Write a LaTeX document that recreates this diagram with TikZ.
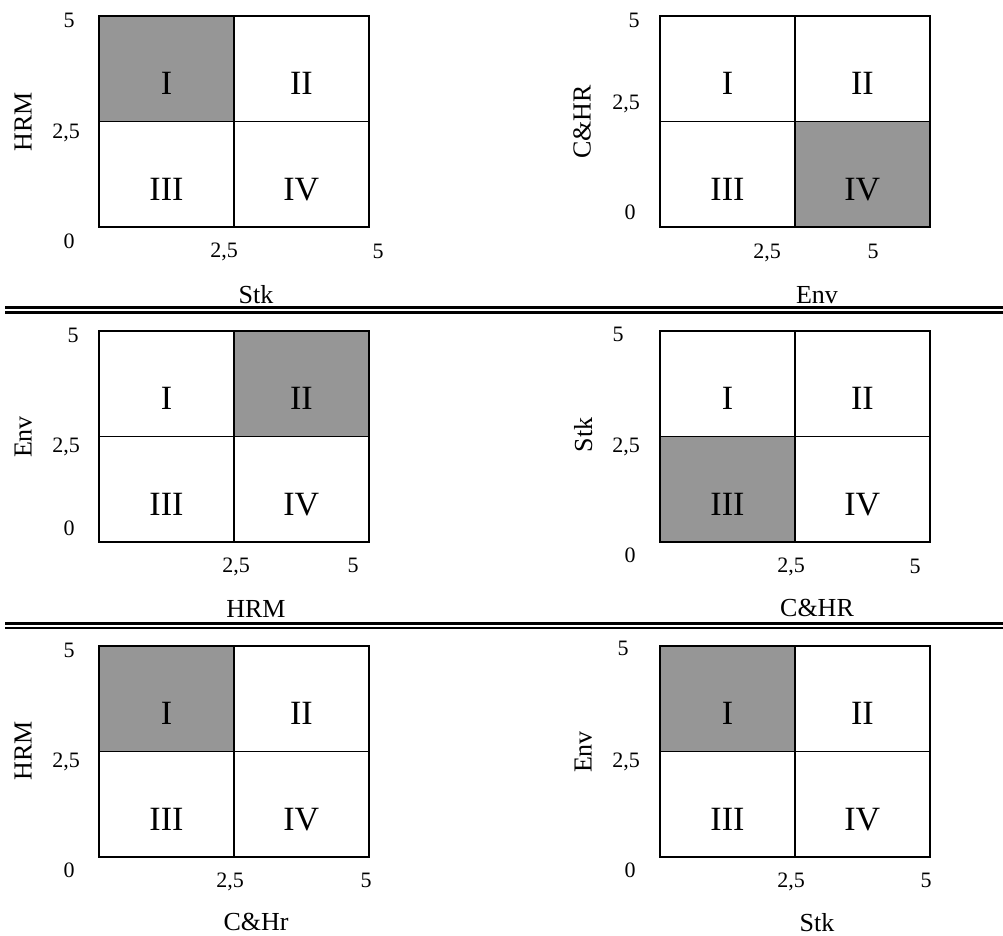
\documentclass[tikz,border=0pt]{standalone}
\usepackage{fontspec}
\setmainfont{Liberation Serif}
\definecolor{shade}{RGB}{150,150,150}
\tikzset{
  cellbox/.style={minimum width=134.5pt, minimum height=105pt, inner sep=0pt, anchor=north west},
  dk/.style={fill=shade},
  lt/.style={fill=white},
  numtext/.style={inner sep=0pt, text depth=0pt, font=\fontsize{34}{40}\selectfont},
  tick/.style={inner sep=0pt, text depth=0pt, font=\fontsize{22}{26}\selectfont},
  axis/.style={inner sep=0pt, text depth=0pt, font=\fontsize{26}{30}\selectfont},
  gridline/.style={line width=1.6pt},
  outerline/.style={line width=2pt},
  sepline/.style={line width=2.5pt}
}
% #1 name, #2 x left, #3 y top, #4..#7 styles of cells I..IV
\newcommand{\qgrid}[7]{%
  \node[cellbox,#4] (#1a) at (#2,#3) {};
  \node[cellbox,#5] (#1b) at (#1a.north east) {};
  \node[cellbox,#6] (#1c) at (#1a.south west) {};
  \node[cellbox,#7] (#1d) at (#1a.south east) {};
  \draw[gridline] (#1a.north east) -- (#1c.south east);
  \draw[gridline] (#1a.south west) -- (#1b.south east);
  \draw[outerline] (#1a.north west) rectangle (#1d.south east);
  \node[numtext] (#1ta) at ([yshift=-15pt]#1a.center) {I};
  \node[numtext] (#1tb) at ([yshift=-15pt]#1b.center) {II};
  \node[numtext] (#1tc) at ([yshift=-15pt]#1c.center) {III};
  \node[numtext] (#1td) at ([yshift=-15pt]#1d.center) {IV};
}
\begin{document}
\begin{tikzpicture}[x=1pt,y=-1pt]
\useasboundingbox (0,0) rectangle (1003,935);

% grid 1
\qgrid{g1}{99}{16}{dk}{lt}{lt}{lt}
\node[tick] (g1y5) at (69,20.5) {5};
\node[tick] (g1y25) at (66,131) {2,5};
\node[tick] (g1y0) at (69,241) {0};
\node[tick] (g1x25) at (224,250) {2,5};
\node[tick] (g1x5) at (378,251) {5};
\node[axis] (g1xl) at (256,294) {Stk};
\node[axis,rotate=90] (g1yl) at (23,122) {HRM};

% grid 2
\qgrid{g2}{660}{16}{lt}{lt}{lt}{dk}
\node[tick] (g2y5) at (634,20.5) {5};
\node[tick] (g2y25) at (626,102) {2,5};
\node[tick] (g2y0) at (630,212) {0};
\node[tick] (g2x25) at (767,251) {2,5};
\node[tick] (g2x5) at (873,251) {5};
\node[axis] (g2xl) at (817,295) {Env};
\node[axis,rotate=90] (g2yl) at (582,122) {C\&HR};

% separator 1
\coordinate (s1a) at (5,307.5);
\coordinate (s1b) at (1003,307.5);
\coordinate (s1c) at (5,312.5);
\coordinate (s1d) at (1003,312.5);
\draw[sepline] (s1a) -- (s1b);
\draw[sepline] (s1c) -- (s1d);

% grid 3
\qgrid{g3}{99}{331}{lt}{dk}{lt}{lt}
\node[tick] (g3y5) at (73,335) {5};
\node[tick] (g3y25) at (66,445) {2,5};
\node[tick] (g3y0) at (69,528) {0};
\node[tick] (g3x25) at (236,565) {2,5};
\node[tick] (g3x5) at (353,565) {5};
\node[axis] (g3xl) at (256,609) {HRM};
\node[axis,rotate=90] (g3yl) at (23,437) {Env};

% grid 4
\qgrid{g4}{660}{331}{lt}{lt}{dk}{lt}
\node[tick] (g4y5) at (618,334) {5};
\node[tick] (g4y25) at (626,445) {2,5};
\node[tick] (g4y0) at (630,555) {0};
\node[tick] (g4x25) at (791,565) {2,5};
\node[tick] (g4x5) at (915,566) {5};
\node[axis] (g4xl) at (817,608) {C\&HR};
\node[axis,rotate=90] (g4yl) at (583,435) {Stk};

% separator 2
\coordinate (s2a) at (5,623.5);
\coordinate (s2b) at (1003,623.5);
\coordinate (s2c) at (5,628);
\coordinate (s2d) at (1003,628);
\draw[sepline] (s2a) -- (s2b);
\draw[sepline] (s2c) -- (s2d);

% grid 5
\qgrid{g5}{99}{646}{dk}{lt}{lt}{lt}
\node[tick] (g5y5) at (69,650) {5};
\node[tick] (g5y25) at (66,760) {2,5};
\node[tick] (g5y0) at (69,870) {0};
\node[tick] (g5x25) at (230,880) {2,5};
\node[tick] (g5x5) at (366,880) {5};
\node[axis] (g5xl) at (256,922) {C\&Hr};
\node[axis,rotate=90] (g5yl) at (23,751) {HRM};

% grid 6
\qgrid{g6}{660}{646}{dk}{lt}{lt}{lt}
\node[tick] (g6y5) at (623,648) {5};
\node[tick] (g6y25) at (626,760) {2,5};
\node[tick] (g6y0) at (630,870) {0};
\node[tick] (g6x25) at (791,880) {2,5};
\node[tick] (g6x5) at (926,880) {5};
\node[axis] (g6xl) at (817,922) {Stk};
\node[axis,rotate=90] (g6yl) at (583,752) {Env};
\end{tikzpicture}
\end{document}
